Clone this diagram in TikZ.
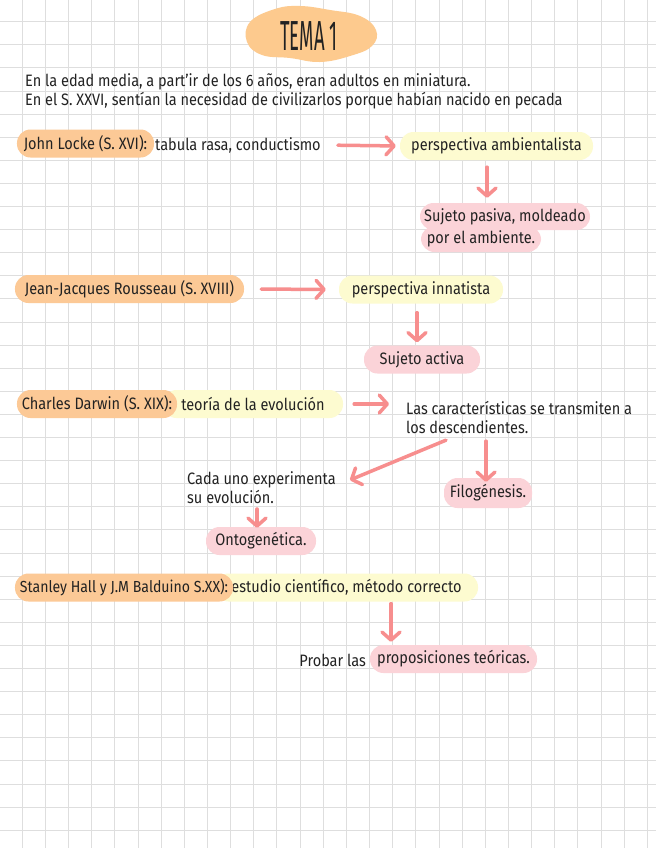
\documentclass[tikz,border=0pt]{standalone}
\usepackage{fontspec}
\setmainfont{Fira Sans}[FakeStretch=0.88]
\usetikzlibrary{arrows.meta,calc}
\definecolor{gridc}{HTML}{DEDEDE}
\definecolor{orng}{HTML}{FCC996}
\definecolor{yell}{HTML}{FDFBD0}
\definecolor{pnk}{HTML}{FBD3D8}
\definecolor{arrc}{HTML}{F78E8E}
\definecolor{blobc}{HTML}{FDCA8E}
\definecolor{ink}{HTML}{222222}
\begin{document}
\begin{tikzpicture}[x=1bp,y=-1bp,
  txt/.style={font=\fontsize{16.5bp}{19.5bp}\selectfont, text=ink, inner sep=0pt},
  pill/.style={txt, rounded corners=13.5bp, minimum height=28bp},
  opill/.style={pill, fill=orng},
  ypill/.style={pill, fill=yell},
  ppill/.style={pill, fill=pnk},
  arr/.style={draw=arrc, line width=3.5bp, line cap=round,
    -{Straight Barb[length=8bp,width=18bp,round]}}]
\useasboundingbox (0,0) rectangle (656,848);
\fill[white] (0,0) rectangle (656,848);
\foreach \i in {0,...,27} \draw[gridc, line width=1bp] (22.3+23.15*\i,0) -- (22.3+23.15*\i,848);
\foreach \j in {0,...,35} \draw[gridc, line width=1bp] (0,21.7+23.1*\j) -- (656,21.7+23.1*\j);

% title
\fill[blobc] plot[smooth cycle, tension=0.7] coordinates {(250,22) (275,9) (300,6) (330,10) (360,16) (376,30) (372,46) (350,56) (320,62) (290,58) (262,55) (247,42)};
\node[txt] (title) at (309,36) {\scalebox{0.5}[1]{\fontsize{42bp}{42bp}\selectfont TEMA 1}};

% intro
\node[txt, anchor=west] (intro1) at (25,82) {En la edad media, a part'ir de los 6 años, eran adultos en miniatura.};
\node[txt, anchor=west] (intro2) at (25,101) {En el S. XXVI, sentían la necesidad de civilizarlos porque habían nacido en pecada};

% row 1
\node[opill, minimum width=137bp] (locke) at (85.5,143.5) {John Locke (S. XVI):};
\node[txt, anchor=west] (lockeT) at (155,145) {tabula rasa, conductismo};
\node[ypill, minimum width=193bp] (amb) at (496.5,146) {perspectiva ambientalista};
\node[ppill, minimum width=170bp, minimum height=27bp] (pas1) at (505,216.5) {Sujeto pasiva, moldeado};
\node[ppill, minimum width=120bp, minimum height=26bp] (pas2) at (481,239) {por el ambiente.};
\draw[arr, shorten <=17bp, shorten >=4bp] (lockeT.east) -- (amb.west);
\draw[arr, shorten <=7bp, shorten >=5bp] ([xshift=-9.5bp]amb.south) -- ([xshift=-9.5bp]amb.south |- pas1.north);

% row 2
\node[opill, minimum width=229bp] (rous) at (129.5,289) {Jean-Jacques Rousseau (S. XVIII)};
\node[ypill, minimum width=164bp] (innat) at (421,289.5) {perspectiva innatista};
\node[ppill, minimum width=116bp] (activa) at (422,359.5) {Sujeto activa};
\draw[arr, shorten <=17bp, shorten >=13bp] (rous.east) -- (innat.west);
\draw[arr, shorten <=9bp, shorten >=3bp] ([xshift=-4bp]innat.south) -- ([xshift=-4bp]innat.south |- activa.north);

% row 3
\node[ypill, minimum width=180bp] (teoria) at (253,404) {teoría de la evolución};
\node[opill, minimum width=160bp] (darwin) at (97,404) {Charles Darwin (S. XIX):};
\node[txt, anchor=west, align=left] (caract) at (406,417.5) {Las características se transmiten a\\los descendientes.};
\node[txt, anchor=west, align=left] (cada) at (187,487.5) {Cada uno experimenta\\su evolución.};
\node[ppill, minimum width=88bp, minimum height=30bp] (filo) at (488,493) {Filogénesis.};
\node[ppill, minimum width=110bp] (onto) at (261,541) {Ontogenética.};
\draw[arr, shorten <=11bp, shorten >=17bp] (teoria.east) -- (caract.west |- teoria.east);
\draw[arr] ($(caract.south west)+(40,6)$) -- ($(cada.east)+(14,-7.5)$);
\draw[arr, shorten <=7bp, shorten >=-4bp] ([xshift=-2bp]filo.north |- caract.south) -- ([xshift=-2bp]filo.north);
\draw[arr, shorten <=5bp, shorten >=-1bp] ([xshift=-4bp]onto.north |- cada.south) -- ([xshift=-4bp]onto.north);

% row 4
\node[ypill, minimum width=263bp] (estudio) at (346.5,587.5) {estudio científico, método correcto};
\node[opill, minimum width=218bp, font=\fontsize{16bp}{19bp}\selectfont] (stanley) at (124,587.5) {Stanley Hall y J.M Balduino S.XX):};
\node[ppill, minimum width=167bp] (propos) at (453.5,659) {proposiciones teóricas.};
\node[txt, anchor=east] (probar) at (366,660) {Probar las};
\draw[arr, shorten <=2bp, shorten >=3bp] ([xshift=-62.5bp]propos.north |- estudio.south) -- ([xshift=-62.5bp]propos.north);
\end{tikzpicture}
\end{document}
